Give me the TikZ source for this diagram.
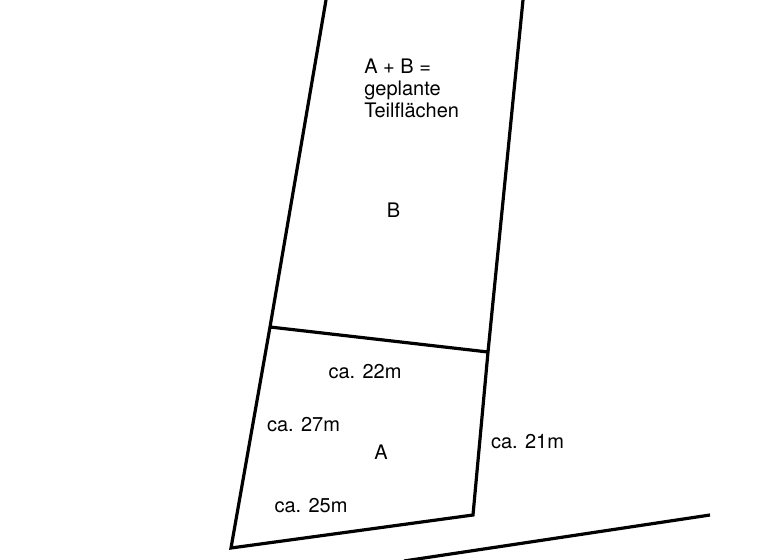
\documentclass[tikz,border=0pt]{standalone}
\usepackage{fontspec}
\setmainfont{TeX Gyre Heros}
\tikzset{
  plotline/.style={line width=2.4pt,line cap=butt,line join=miter,black},
  lab/.style={inner sep=0pt,font=\fontsize{15}{16.5}\selectfont,text=black}
}
\begin{document}
\begin{tikzpicture}[x=0.75pt,y=-0.75pt]
\useasboundingbox (0,0) rectangle (768,560);
\coordinate (tl) at (326,0);
\coordinate (tr) at (523,0);
\coordinate (ml) at (270,327);
\coordinate (mr) at (488,352);
\coordinate (bl) at (231,548);
\coordinate (br) at (473,515);
\coordinate (rs) at (404,561);
\coordinate (re) at (710,515);
\draw[plotline] (tl) -- (ml) -- (bl) -- (br) -- (mr) -- (tr);
\draw[plotline] (ml) -- (mr);
\draw[plotline] (rs) -- (re);
\node[lab,anchor=north west,align=left] (t) at (364,58.5) {A + B =\\geplante\\Teilflächen};
\node[lab] (b) at (393.5,210.5) {B};
\node[lab] (c22) at (365,372) {ca. 22m};
\node[lab] (c27) at (303.5,425) {ca. 27m};
\node[lab] (a) at (381,452.5) {A};
\node[lab] (c21) at (527.5,442) {ca. 21m};
\node[lab] (c25) at (311,506) {ca. 25m};
\end{tikzpicture}
\end{document}
